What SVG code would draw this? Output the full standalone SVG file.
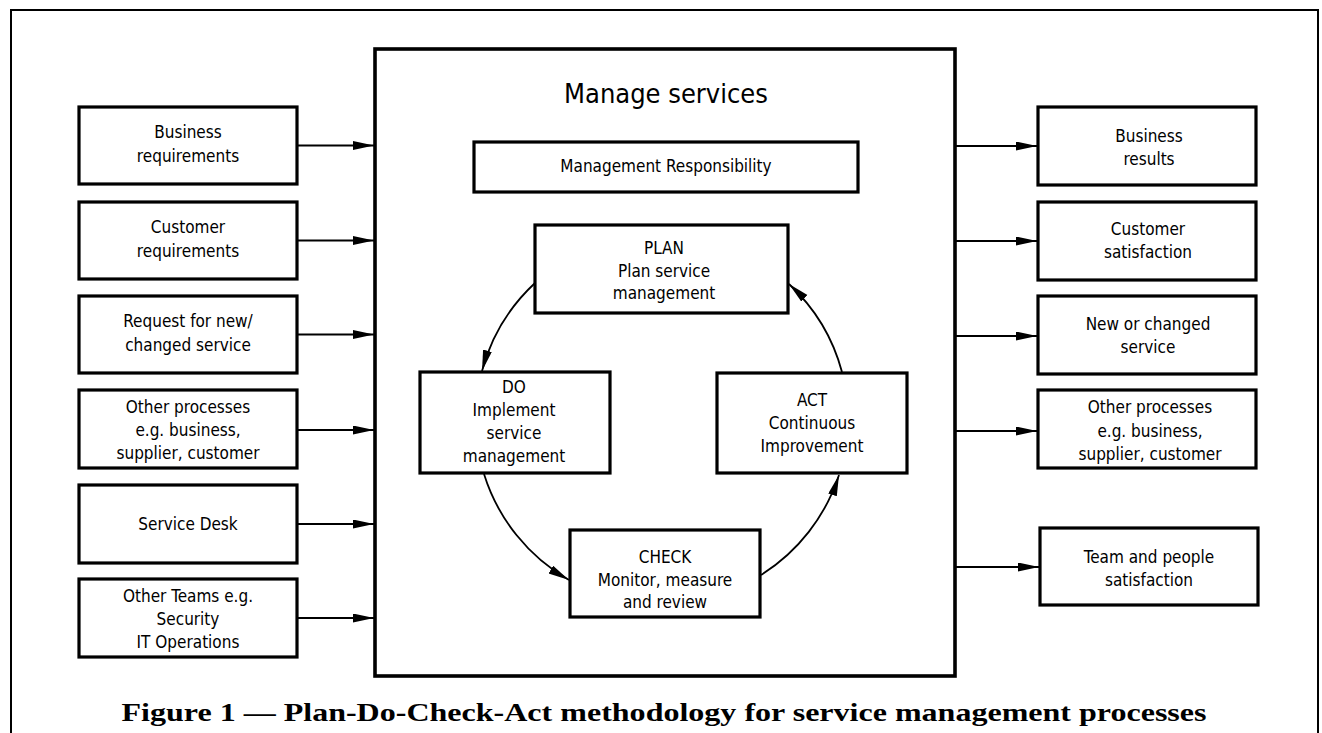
<svg xmlns="http://www.w3.org/2000/svg" width="1322" height="733" viewBox="0 0 1322 733">
<style>
  .box { fill: #fff; stroke: #000; stroke-width: 3.2; }
  .main { fill: #fff; stroke: #000; stroke-width: 3.6; }
  .frame { fill: none; stroke: #000; stroke-width: 2; }
  .t { font-family: "DejaVu Sans Condensed", "DejaVu Sans", sans-serif; font-stretch: condensed; font-size: 17px; fill: #000; text-anchor: middle; }
  .title { font-size: 27px; }
  .cap { font-family: "Liberation Serif", serif; font-weight: bold; font-size: 26px; fill: #000; text-anchor: middle; }
  .con { fill: none; stroke: #000; stroke-width: 1.8; marker-end: url(#ah); }
</style>
<defs>
  <marker id="ah" markerUnits="userSpaceOnUse" markerWidth="22" markerHeight="10" refX="21" refY="4.5" orient="auto">
    <path d="M0,0 L21,4.5 L0,9 z" fill="#000"/>
  </marker>
</defs>
<rect width="1322" height="733" fill="#fff"/>
<path class="frame" d="M11,740 L11,10 L1318,10 L1318,740"/>

<g id="manage-services">
  <rect class="main" x="375" y="49" width="580" height="627"/>
  <text class="t title" x="666" y="103">Manage services</text>
</g>

<g id="management-responsibility">
  <rect class="box" x="474" y="142" width="384" height="50"/>
  <text class="t" x="666" y="172">Management Responsibility</text>
</g>

<g id="plan">
  <rect class="box" x="535" y="225" width="253" height="88"/>
  <text class="t" x="664" y="254">PLAN</text>
  <text class="t" x="664" y="277">Plan service</text>
  <text class="t" x="664" y="299">management</text>
</g>

<g id="do">
  <rect class="box" x="420" y="372" width="190" height="101"/>
  <text class="t" x="514" y="393">DO</text>
  <text class="t" x="514" y="416">Implement</text>
  <text class="t" x="514" y="439">service</text>
  <text class="t" x="514" y="462">management</text>
</g>

<g id="act">
  <rect class="box" x="717" y="373" width="190" height="100"/>
  <text class="t" x="812" y="406">ACT</text>
  <text class="t" x="812" y="429">Continuous</text>
  <text class="t" x="812" y="452">Improvement</text>
</g>

<g id="check">
  <rect class="box" x="570" y="530" width="190" height="87"/>
  <text class="t" x="665" y="563">CHECK</text>
  <text class="t" x="665" y="586">Monitor, measure</text>
  <text class="t" x="665" y="608">and review</text>
</g>

<g id="in-business">
  <rect class="box" x="79" y="107" width="218" height="77"/>
  <text class="t" x="188" y="138">Business</text>
  <text class="t" x="188" y="162">requirements</text>
</g>
<g id="in-customer">
  <rect class="box" x="79" y="202" width="218" height="77"/>
  <text class="t" x="188" y="233">Customer</text>
  <text class="t" x="188" y="257">requirements</text>
</g>
<g id="in-request">
  <rect class="box" x="79" y="296" width="218" height="77"/>
  <text class="t" x="188" y="327">Request for new/</text>
  <text class="t" x="188" y="351">changed service</text>
</g>
<g id="in-other">
  <rect class="box" x="79" y="390" width="218" height="78"/>
  <text class="t" x="188" y="413">Other processes</text>
  <text class="t" x="188" y="436">e.g. business,</text>
  <text class="t" x="188" y="459">supplier, customer</text>
</g>
<g id="in-servicedesk">
  <rect class="box" x="79" y="485" width="218" height="78"/>
  <text class="t" x="188" y="530">Service Desk</text>
</g>
<g id="in-teams">
  <rect class="box" x="79" y="579" width="218" height="78"/>
  <text class="t" x="188" y="602">Other Teams e.g.</text>
  <text class="t" x="188" y="625">Security</text>
  <text class="t" x="188" y="648">IT Operations</text>
</g>

<g id="out-business">
  <rect class="box" x="1038" y="107" width="218" height="78"/>
  <text class="t" x="1149" y="142">Business</text>
  <text class="t" x="1149" y="165">results</text>
</g>
<g id="out-customer">
  <rect class="box" x="1038" y="202" width="218" height="78"/>
  <text class="t" x="1148" y="235">Customer</text>
  <text class="t" x="1148" y="258">satisfaction</text>
</g>
<g id="out-new">
  <rect class="box" x="1038" y="296" width="218" height="78"/>
  <text class="t" x="1148" y="330">New or changed</text>
  <text class="t" x="1148" y="353">service</text>
</g>
<g id="out-other">
  <rect class="box" x="1038" y="390" width="218" height="78"/>
  <text class="t" x="1150" y="413">Other processes</text>
  <text class="t" x="1150" y="437">e.g. business,</text>
  <text class="t" x="1150" y="460">supplier, customer</text>
</g>
<g id="out-team">
  <rect class="box" x="1040" y="528" width="218" height="77"/>
  <text class="t" x="1149" y="563">Team and people</text>
  <text class="t" x="1149" y="586">satisfaction</text>
</g>

<g id="connectors">
  <line class="con" x1="298" y1="145.5" x2="374" y2="145.5"/>
  <line class="con" x1="298" y1="240.5" x2="374" y2="240.5"/>
  <line class="con" x1="298" y1="334.5" x2="374" y2="334.5"/>
  <line class="con" x1="298" y1="430" x2="374" y2="430"/>
  <line class="con" x1="298" y1="524" x2="374" y2="524"/>
  <line class="con" x1="298" y1="618" x2="374" y2="618"/>

  <line class="con" x1="956" y1="146" x2="1037" y2="146"/>
  <line class="con" x1="956" y1="241" x2="1037" y2="241"/>
  <line class="con" x1="956" y1="336" x2="1037" y2="336"/>
  <line class="con" x1="956" y1="431" x2="1037" y2="431"/>
  <line class="con" x1="956" y1="567" x2="1039" y2="567"/>

  <path class="con" d="M535,283 A186,186 0 0,0 482,371"/>
  <path class="con" d="M484,474 A186,186 0 0,0 569,580"/>
  <path class="con" d="M761,575 A186,186 0 0,0 839,475"/>
  <path class="con" d="M842,372 A186,186 0 0,0 789,284"/>
</g>

<g id="caption">
  <text class="cap" x="664" y="721" textLength="1085" lengthAdjust="spacingAndGlyphs">Figure 1 — Plan-Do-Check-Act methodology for service management processes</text>
</g>
</svg>
